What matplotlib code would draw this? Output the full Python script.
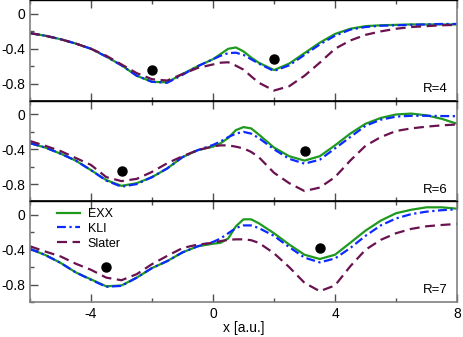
import matplotlib
matplotlib.use("Agg")
import matplotlib.pyplot as plt
from matplotlib.ticker import MultipleLocator, FuncFormatter

plt.rcParams['font.family'] = ['Liberation Sans', 'DejaVu Sans']
plt.rcParams['axes.unicode_minus'] = False

x = [-6, -5.5, -5, -4.5, -4, -3.5, -3, -2.5, -2, -1.5, -1, -0.5, 0, 0.25, 0.5, 0.75,
     1, 1.25, 1.5, 2, 2.5, 3, 3.5, 4, 4.5, 5, 5.5, 6, 6.5, 7, 7.5, 8]

# R = 4
exx_r4 = [-0.22, -0.25, -0.29, -0.34, -0.40, -0.49, -0.59, -0.71, -0.78, -0.785, -0.69, -0.60,
          -0.52, -0.46, -0.40, -0.385, -0.43, -0.50, -0.56, -0.645, -0.57, -0.45, -0.33, -0.23,
          -0.17, -0.14, -0.13, -0.125, -0.12, -0.12, -0.12, -0.12]
kli_r4 = [-0.22, -0.25, -0.29, -0.34, -0.40, -0.49, -0.59, -0.71, -0.78, -0.79, -0.70, -0.60,
          -0.52, -0.48, -0.45, -0.445, -0.47, -0.52, -0.57, -0.655, -0.59, -0.47, -0.35, -0.25,
          -0.18, -0.15, -0.135, -0.13, -0.125, -0.12, -0.115, -0.115]
sla_r4 = [-0.22, -0.25, -0.29, -0.34, -0.40, -0.48, -0.58, -0.68, -0.75, -0.765, -0.69, -0.62,
          -0.58, -0.56, -0.555, -0.594, -0.64, -0.716, -0.79, -0.88, -0.83, -0.71, -0.56, -0.40,
          -0.305, -0.24, -0.20, -0.17, -0.15, -0.14, -0.13, -0.125]

# R = 6
exx_r6 = [-0.33, -0.38, -0.45, -0.53, -0.64, -0.754, -0.82, -0.79, -0.72, -0.62, -0.49, -0.41,
          -0.37, -0.33, -0.27, -0.18, -0.145, -0.16, -0.23, -0.38, -0.48, -0.53, -0.48, -0.355,
          -0.22, -0.107, -0.04, 0.0, 0.01, -0.01, -0.05, -0.107]
kli_r6 = [-0.33, -0.38, -0.45, -0.53, -0.64, -0.76, -0.83, -0.80, -0.72, -0.62, -0.49, -0.41,
          -0.35, -0.31, -0.26, -0.22, -0.20, -0.22, -0.27, -0.40, -0.51, -0.565, -0.52, -0.39,
          -0.26, -0.13, -0.06, -0.025, -0.015, -0.015, -0.018, -0.02]
sla_r6 = [-0.305, -0.36, -0.42, -0.50, -0.58, -0.72, -0.766, -0.74, -0.66, -0.56, -0.48, -0.41,
          -0.366, -0.355, -0.355, -0.37, -0.39, -0.43, -0.49, -0.67, -0.79, -0.88, -0.84, -0.72,
          -0.53, -0.36, -0.26, -0.19, -0.16, -0.14, -0.125, -0.115]

# R = 7
exx_r7 = [-0.39, -0.46, -0.55, -0.66, -0.74, -0.82, -0.81, -0.72, -0.61, -0.53, -0.43, -0.36,
          -0.33, -0.32, -0.27, -0.13, -0.05, -0.05, -0.095, -0.21, -0.34, -0.457, -0.506, -0.457,
          -0.32, -0.18, -0.065, 0.02, 0.06, 0.088, 0.088, 0.072]
kli_r7 = [-0.39, -0.46, -0.55, -0.66, -0.745, -0.825, -0.815, -0.72, -0.61, -0.53, -0.43, -0.36,
          -0.31, -0.27, -0.21, -0.15, -0.12, -0.12, -0.15, -0.24, -0.37, -0.49, -0.545, -0.50,
          -0.38, -0.24, -0.12, -0.04, 0.01, 0.038, 0.055, 0.065]
sla_r7 = [-0.36, -0.42, -0.476, -0.56, -0.63, -0.72, -0.75, -0.68, -0.565, -0.47, -0.38, -0.34,
          -0.32, -0.30, -0.286, -0.28, -0.28, -0.29, -0.32, -0.44, -0.60, -0.78, -0.876, -0.81,
          -0.59, -0.40, -0.286, -0.21, -0.16, -0.13, -0.115, -0.103]

dots_x = [[-2, 2], [-3, 3], [-3.5, 3.5]]
dots_y = [[-0.64, -0.514], [-0.65, -0.42], [-0.60, -0.38]]
r_labels = ["R=4", "R=6", "R=7"]
series_names = ["EXX", "KLI", "Slater"]

panels = [(exx_r4, kli_r4, sla_r4), (exx_r6, kli_r6, sla_r6), (exx_r7, kli_r7, sla_r7)]

green = '#1f9a1f'
blue = '#0a2aff'
maroon = '#6a1250'
spine_gray = '#808080'

fig = plt.figure(figsize=(4.63, 3.37), dpi=100)
left = 30 / 463
width = 427 / 463
h = 100.5 / 337
bottoms = [0.1039 + 2 * h, 0.1039 + h, 0.1039]

for i, (exx, kli, sla) in enumerate(panels):
    ax = fig.add_axes([left, bottoms[i], width, h])
    ax.plot(x, exx, color=green, lw=1.6, label=series_names[0])
    ax.plot(x, kli, color=blue, lw=1.6, dashes=(4, 1.6, 1, 1.6), label=series_names[1])
    ax.plot(x, sla, color=maroon, lw=1.6, dashes=(4.5, 2.5), label=series_names[2])
    ax.plot(dots_x[i], dots_y[i], 'o', color='black', ms=6.5, zorder=5)
    ax.set_xlim(-6, 8)
    ax.set_ylim(-1.0, 0.155)
    ax.xaxis.set_major_locator(MultipleLocator(4))
    ax.xaxis.set_minor_locator(MultipleLocator(2))
    ax.yaxis.set_major_locator(MultipleLocator(0.4))
    ax.yaxis.set_minor_locator(MultipleLocator(0.2))
    ax.yaxis.set_major_formatter(FuncFormatter(lambda v, p: "0" if abs(v) < 1e-9 else "%g" % v))
    ax.tick_params(which='both', direction='in', top=True, right=False, labelsize=10,
                   color='#505050')
    ax.tick_params(which='major', length=6, width=1)
    ax.tick_params(which='minor', length=3, width=1)
    for s in ['left', 'right']:
        ax.spines[s].set_color(spine_gray)
        ax.spines[s].set_linewidth(1.2)
    ax.spines['top'].set_color('black')
    ax.spines['bottom'].set_color('black' if i < 2 else spine_gray)
    ax.spines['top'].set_linewidth(1.0)
    ax.spines['bottom'].set_linewidth(1.2)
    if i < 2:
        ax.tick_params(labelbottom=False)
    ax.text(0.979, 0.115, r_labels[i], transform=ax.transAxes, ha='right', va='center',
            fontsize=9.5)
    if i == 2:
        ax.set_xlabel("x [a.u.]", fontsize=10, labelpad=0)
        ax.legend(loc='upper left', bbox_to_anchor=(0.063, 0.935), frameon=False, fontsize=9,
                  handlelength=1.85, handletextpad=0.6, labelspacing=0.22, borderaxespad=0,
                  borderpad=0)

fig.savefig("out.png", dpi=100)
